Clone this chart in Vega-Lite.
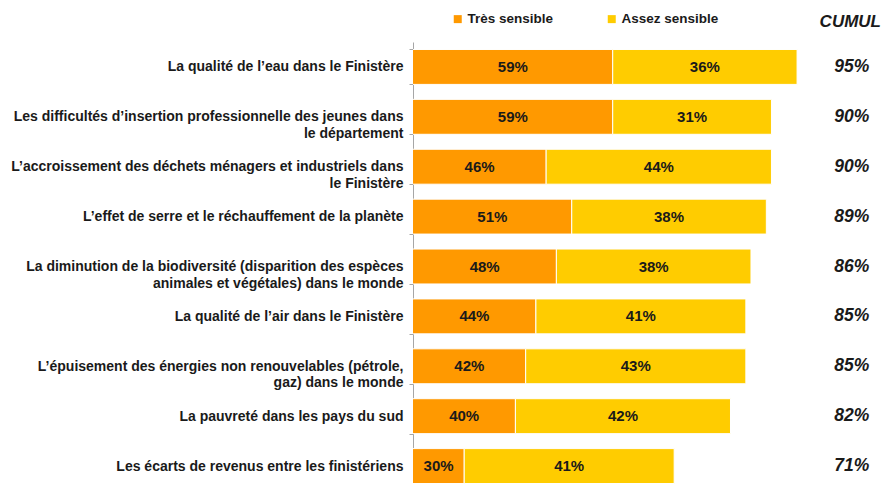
{
  "$schema": "https://vega.github.io/schema/vega-lite/v6.json",
  "width": 466,
  "height": 442,
  "autosize": {"type": "none"},
  "padding": {"left": 413, "top": 42, "right": 4, "bottom": 0},
  "title": {"text": "CUMUL", "anchor": "end", "orient": "top", "font": "Liberation Sans", "fontSize": 17, "fontWeight": "bold", "fontStyle": "italic", "color": "#1a1a1a", "dx": 2, "offset": -19, "frame": "group"},
  "data": {"values": [
    {"item": "La qualité de l’eau dans le Finistère", "series": "Très sensible", "value": 0.59, "cumul": 0.95},
    {"item": "La qualité de l’eau dans le Finistère", "series": "Assez sensible", "value": 0.36, "cumul": 0.95},
    {"item": "Les difficultés d’insertion professionnelle des jeunes dans|le département", "series": "Très sensible", "value": 0.59, "cumul": 0.90},
    {"item": "Les difficultés d’insertion professionnelle des jeunes dans|le département", "series": "Assez sensible", "value": 0.31, "cumul": 0.90},
    {"item": "L’accroissement des déchets ménagers et industriels dans|le Finistère", "series": "Très sensible", "value": 0.46, "cumul": 0.90},
    {"item": "L’accroissement des déchets ménagers et industriels dans|le Finistère", "series": "Assez sensible", "value": 0.44, "cumul": 0.90},
    {"item": "L’effet de serre et le réchauffement de la planète", "series": "Très sensible", "value": 0.51, "cumul": 0.89},
    {"item": "L’effet de serre et le réchauffement de la planète", "series": "Assez sensible", "value": 0.38, "cumul": 0.89},
    {"item": "La diminution de la biodiversité (disparition des espèces|animales et végétales) dans le monde", "series": "Très sensible", "value": 0.48, "cumul": 0.86},
    {"item": "La diminution de la biodiversité (disparition des espèces|animales et végétales) dans le monde", "series": "Assez sensible", "value": 0.38, "cumul": 0.86},
    {"item": "La qualité de l’air dans le Finistère", "series": "Très sensible", "value": 0.44, "cumul": 0.85},
    {"item": "La qualité de l’air dans le Finistère", "series": "Assez sensible", "value": 0.41, "cumul": 0.85},
    {"item": "L’épuisement des énergies non renouvelables (pétrole,|gaz) dans le monde", "series": "Très sensible", "value": 0.42, "cumul": 0.85},
    {"item": "L’épuisement des énergies non renouvelables (pétrole,|gaz) dans le monde", "series": "Assez sensible", "value": 0.43, "cumul": 0.85},
    {"item": "La pauvreté dans les pays du sud", "series": "Très sensible", "value": 0.40, "cumul": 0.82},
    {"item": "La pauvreté dans les pays du sud", "series": "Assez sensible", "value": 0.42, "cumul": 0.82},
    {"item": "Les écarts de revenus entre les finistériens", "series": "Très sensible", "value": 0.30, "cumul": 0.71},
    {"item": "Les écarts de revenus entre les finistériens", "series": "Assez sensible", "value": 0.41, "cumul": 0.71}
  ]},
  "encoding": {
    "y": {
      "field": "item", "type": "nominal", "sort": null,
      "scale": {"range": [0, 449], "paddingInner": 0.3, "paddingOuter": 0.15},
      "axis": {"title": null, "domainColor": "#a6a6a6", "tickColor": "#a6a6a6", "tickSize": 4, "tickBand": "extent", "labelPadding": 6, "labelFont": "Liberation Sans", "labelFontSize": 14, "labelFontWeight": "bold", "labelColor": "#1a1a1a", "labelLineHeight": 16.5, "labelExpr": "split(datum.label, '|')", "labelLimit": 420, "labelOverlap": false}
    }
  },
  "layer": [
    {
      "mark": {"type": "bar", "stroke": "white", "strokeWidth": 1, "clip": true},
      "encoding": {
        "x": {"field": "value", "type": "quantitative", "stack": "zero", "scale": {"domain": [0.2, 1.11], "nice": false, "zero": false}, "axis": null},
        "color": {"field": "series", "type": "nominal", "scale": {"domain": ["Très sensible", "Assez sensible"], "range": ["#FF9900", "#FFCC00"]},
          "legend": {"orient": "none", "legendX": 38, "legendY": -30, "direction": "horizontal", "title": null, "symbolType": "square", "symbolSize": 64, "symbolStrokeWidth": 0, "labelFont": "Liberation Sans", "labelFontSize": 13.5, "labelFontWeight": "bold", "labelColor": "#1a1a1a", "columnPadding": 51, "labelOffset": 3, "padding": 0}},
        "order": {"field": "series", "sort": "descending"}
      }
    },
    {
      "transform": [{"filter": "datum.series === 'Très sensible'"}],
      "mark": {"type": "text", "font": "Liberation Sans", "fontSize": 15, "fontWeight": "bold", "color": "#1a1a1a", "dx": 51.2},
      "encoding": {
        "x": {"field": "value", "type": "quantitative", "stack": "zero", "bandPosition": 0.5},
        "text": {"field": "value", "format": ".0%"}
      }
    },
    {
      "mark": {"type": "text", "font": "Liberation Sans", "fontSize": 15, "fontWeight": "bold", "color": "#1a1a1a"},
      "encoding": {
        "x": {"field": "value", "type": "quantitative", "stack": "zero", "bandPosition": 0.5},
        "detail": {"field": "series"},
        "order": {"field": "series", "sort": "descending"},
        "opacity": {"condition": {"test": "datum.series === 'Très sensible'", "value": 0}, "value": 1},
        "text": {"field": "value", "format": ".0%"}
      }
    },
    {
      "transform": [{"filter": "datum.series === 'Très sensible'"}],
      "mark": {"type": "text", "font": "Liberation Sans", "fontSize": 17.5, "fontWeight": "bold", "fontStyle": "italic", "color": "#1a1a1a"},
      "encoding": {
        "x": {"datum": 1.057, "type": "quantitative"},
        "text": {"field": "cumul", "format": ".0%"}
      }
    }
  ],
  "config": {"view": {"stroke": null}}
}
